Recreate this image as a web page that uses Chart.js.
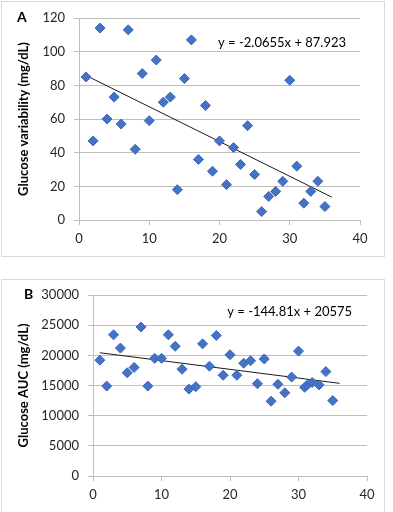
<!DOCTYPE html>
<html>
<head>
<meta charset="utf-8">
<script src="https://cdn.jsdelivr.net/npm/chart.js@4/dist/chart.umd.min.js"></script>
<style>
  body { margin: 0; background: #fff; font-family: Lato, sans-serif; }
  #wrap { position: relative; width: 393px; height: 512px; overflow: hidden; }
  .panel { position: absolute; border: 1px solid #D9D9D9; box-sizing: border-box; }
  canvas { position: absolute; left: 0; }
  .tag { position: absolute; font-weight: bold; font-size: 14px; color: #000; }
</style>
</head>
<body>
<div id="wrap">
  <div class="panel" style="left:1px;top:1px;width:384px;height:256px"></div>
  <div class="panel" style="left:1px;top:279px;width:384px;height:250px"></div>
  <canvas id="chartA" width="393" height="257" style="top:0"></canvas>
  <canvas id="chartB" width="393" height="233" style="top:277px"></canvas>
  <div class="tag" style="left:17px;top:8px">A</div>
  <div class="tag" style="left:24px;top:285px">B</div>
</div>
<script>
// subject number (x) for each panel
const xA = [1,2,3,4,5,6,7,8,9,10,11,12,13,14,15,16,17,18,19,20,21,22,23,24,25,26,27,28,29,30,31,32,33,34,35];
const glucoseVariability = [85,47,114,60,73,57,113,42,87,59,95,70,73,18,84,107,36,68,29,47,21,43,33,56,27,5,14,17,23,83,32,10,17,23,8];

const xB = [1,2,3,4,5,6,7,8,9,10,11,12,13,14,15,16,17,18,19,20,21,22,23,24,25,26,27,28,29,30,30.9,31.3,32,33,34,35];
const glucoseAUC = [19200,14900,23400,21200,17100,18000,24700,14900,19500,19500,23400,21500,17700,14400,14800,21900,18200,23300,16700,20100,16700,18700,19100,15300,19400,12400,15200,13800,16400,20700,14700,15100,15500,15100,17300,12500];

// trendlines (from the equations printed on the chart)
const trendX = [1, 36];
const slopeA = -2.0655, interceptA = 87.923;
const slopeB = -144.81, interceptB = 20575;

const xTicks = [0, 10, 20, 30, 40];
const yTicksA = [0, 20, 40, 60, 80, 100, 120];
const yTicksB = [0, 5000, 10000, 15000, 20000, 25000, 30000];

const gridColor = '#BFBFBF';
const textColor = '#262626';
const pointColor = '#4472C4';

function pts(xs, ys) { return xs.map((x, i) => ({ x: x, y: ys[i] })); }
function trend(m, b) { return trendX.map(x => ({ x: x, y: m * x + b })); }

const equationLabel = {
  id: 'equationLabel',
  afterDatasetsDraw(chart, args, opts) {
    const ctx = chart.ctx;
    ctx.save();
    ctx.font = '13px Lato';
    ctx.fillStyle = '#000';
    ctx.textBaseline = 'middle';
    ctx.fillText(opts.text, chart.scales.x.getPixelForValue(opts.x), chart.scales.y.getPixelForValue(opts.y));
    ctx.restore();
  }
};

function makeChart(id, xs, ys, m, b, yTicks, title, eq, yWidth, xHeight, pad) {
  return new Chart(id, {
    type: 'scatter',
    data: {
      datasets: [{
        data: pts(xs, ys),
        pointStyle: 'rectRot',
        pointRadius: 5,
        backgroundColor: pointColor,
        borderColor: '#3B67B8',
        borderWidth: 1
      }, {
        type: 'line',
        data: trend(m, b),
        borderColor: '#1a1a1a',
        borderWidth: 1,
        pointRadius: 0,
        fill: false
      }]
    },
    options: {
      responsive: false,
      animation: false,
      layout: { padding: pad },
      plugins: {
        legend: { display: false },
        tooltip: { enabled: false },
        equationLabel: eq
      },
      scales: {
        x: {
          type: 'linear',
          min: xTicks[0], max: xTicks[xTicks.length - 1],
          afterBuildTicks: s => { s.ticks = xTicks.map(v => ({ value: v })); },
          afterFit: s => { s.height = xHeight; },
          border: { color: gridColor },
          grid: { drawOnChartArea: false, drawTicks: true, tickLength: 5, color: gridColor },
          ticks: { color: textColor, font: { family: 'Lato', size: 13 }, padding: 6, maxRotation: 0 }
        },
        y: {
          min: yTicks[0], max: yTicks[yTicks.length - 1],
          afterBuildTicks: s => { s.ticks = yTicks.map(v => ({ value: v })); },
          afterFit: s => { s.width = yWidth; },
          border: { color: gridColor },
          grid: { color: gridColor, tickLength: 5 },
          ticks: { color: textColor, font: { family: 'Lato', size: 13 }, padding: 9, callback: v => String(v) },
          title: {
            display: true, text: title, color: '#000',
            font: { family: 'Lato', size: 13, weight: 'bold' },
            padding: { top: 16, bottom: 0 }
          }
        }
      }
    },
    plugins: [equationLabel]
  });
}

makeChart('chartA', xA, glucoseVariability, slopeA, interceptA, yTicksA,
  'Glucose variability (mg/dL)',
  { text: 'y = -2.0655x + 87.923', x: 19.8, y: 105 },
  79, 37, { top: 18, right: 33, bottom: 0, left: 0 });

makeChart('chartB', xB, glucoseAUC, slopeB, interceptB, yTicksB,
  'Glucose AUC (mg/dL)',
  { text: 'y = -144.81x + 20575', x: 19.6, y: 27200 },
  93, 34, { top: 18, right: 26, bottom: 0, left: 0 });
</script>
</body>
</html>
